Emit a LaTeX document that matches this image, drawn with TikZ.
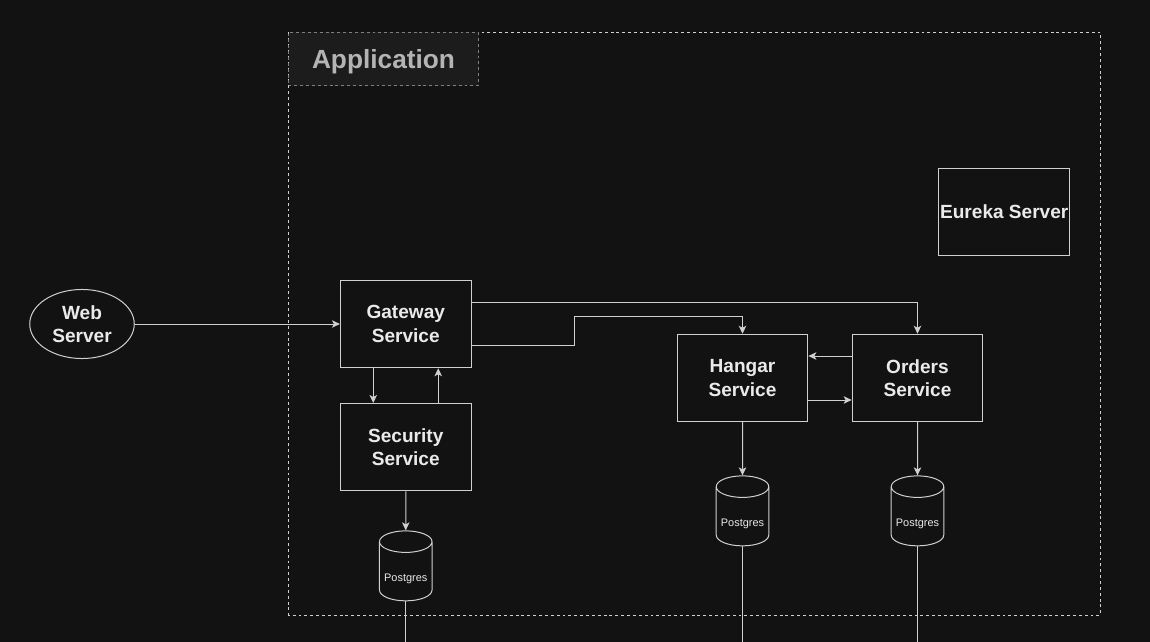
\documentclass[tikz,border=0pt]{standalone}
\usepackage{fontspec}
\setmainfont{Liberation Sans}
\usepackage{tikz}
\usetikzlibrary{arrows.meta,positioning,calc,shapes.geometric}
\definecolor{canvas}{HTML}{121212}
\definecolor{titlefill}{HTML}{1C1C1C}
\definecolor{wire}{HTML}{D0D0D0}
\definecolor{ink}{HTML}{EAEAEA}
\newcommand{\dblabel}[1]{\raisebox{-5.6pt}[6pt][2pt]{#1}}
\tikzset{
	service/.style={rectangle, draw=wire, line width=0.75pt, minimum width=98pt, minimum height=65.6pt, inner sep=0pt, align=center, text=ink, font=\bfseries\fontsize{14.3}{17.6}\selectfont},
	client/.style={ellipse, draw=wire, line width=0.75pt, minimum width=78.4pt, minimum height=51.8pt, inner sep=0pt, align=center, text=ink, font=\bfseries\fontsize{14.3}{17.6}\selectfont},
	store/.style={cylinder, shape border rotate=90, aspect=0.5, draw=wire, line width=0.75pt, minimum width=39.4pt, minimum height=52.5pt, inner sep=0pt, text=ink, font=\fontsize{8.2}{10}\selectfont},
	flow/.style={draw=wire, line width=0.75pt, -{Stealth[length=6pt,width=5.6pt,inset=1.5pt]}},
	pipe/.style={draw=wire, line width=0.75pt},
	zone/.style={draw=wire, line width=0.6pt, dash pattern=on 2.2pt off 2.2pt},
	zonetitle/.style={rectangle, draw=gray, fill=titlefill, line width=0.6pt, dash pattern=on 2.2pt off 2.2pt, minimum width=142.5pt, minimum height=39.8pt, inner sep=0pt, text depth=0pt, text=ink!75!canvas, font=\bfseries\fontsize{19.7}{24}\selectfont}
}
\begin{document}
\begin{tikzpicture}[x=0.75pt,y=-0.75pt]
	\fill [canvas] (0,0) rectangle (1150,642);
	\useasboundingbox (0,0) rectangle (1150,642);
	\draw [zone] (288.5,32.5) rectangle (1100.5,615);
	\node [zonetitle] (apptitle) at (383.5,59) {Application};
	% services
	\node [client] (web) at (82,324) {Web\\Server};
	\node [service] (gateway) at (405.75,324) {Gateway\\Service};
	\node [service] (security) at (405.75,447.25) {Security\\Service};
	\node [service] (hangar) at (742.5,378) {Hangar\\Service};
	\node [service] (orders) at (917.5,378) {Orders\\Service};
	\node [service] (eureka) at (1004.25,212) {Eureka Server};
	% databases
	\node [store] (securitydb) at (405.75,571.5) {\dblabel{Postgres}};
	\node [store] (hangardb) at (742.5,516.5) {\dblabel{Postgres}};
	\node [store] (ordersdb) at (917.5,516.5) {\dblabel{Postgres}};
	\coordinate (securityend) at (405.75,642);
	\coordinate (hangarend) at (742.5,642);
	\coordinate (ordersend) at (917.5,642);
	% connectors
	\draw [flow] (web) -- (gateway);
	\draw [flow] ($(gateway.east)+(0,-22)$) -| (orders.north);
	\draw [flow] ($(gateway.east)+(0,21.5)$) -- ++(103,0) |- ($(hangar.north)+(0,-17)$) -- (hangar.north);
	\draw [flow] ($(gateway.south)+(-32.5,0)$) -- ($(security.north)+(-32.5,0)$);
	\draw [flow] ($(security.north)+(32.5,0)$) -- ($(gateway.south)+(32.5,0)$);
	\draw [flow] ($(orders.west)+(0,-22)$) -- ($(hangar.east)+(0,-22)$);
	\draw [flow] ($(hangar.east)+(0,22)$) -- ($(orders.west)+(0,22)$);
	\draw [flow] (security) -- (securitydb);
	\draw [flow] (hangar) -- (hangardb);
	\draw [flow] (orders) -- (ordersdb);
	\draw [pipe] (securitydb) -- (securityend);
	\draw [pipe] (hangardb) -- (hangarend);
	\draw [pipe] (ordersdb) -- (ordersend);
\end{tikzpicture}
\end{document}
